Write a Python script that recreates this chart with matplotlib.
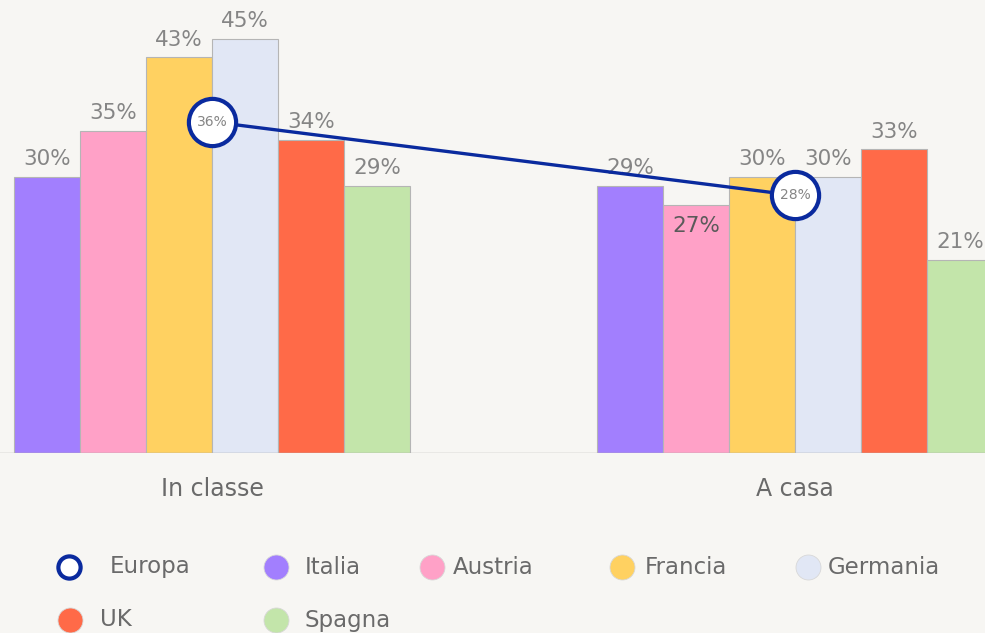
import numpy as np
import matplotlib.pyplot as plt

# data
groups = ["In classe", "A casa"]
paesi = ["Italia", "Austria", "Francia", "Germania", "UK", "Spagna"]
colori = ["#A27FFE", "#FFA1C7", "#FFD161", "#E1E7F5", "#FF6A48", "#C3E5AA"]
in_classe = [30, 35, 43, 45, 34, 29]
a_casa = [29, 27, 30, 30, 33, 21]
europa = [36, 28]

bg = "#F7F6F3"
blu = "#0A2A9E"
grigio = "#858585"
font = "DejaVu Sans"

fig = plt.figure(figsize=(9.85, 6.33), dpi=100, facecolor=bg)
ax = fig.add_axes([0, 180 / 633, 1, 453 / 633])
ax.set_facecolor(bg)

x = np.arange(len(groups))
w = 66 / 583
valori = np.array([in_classe, a_casa]).T
for i, (nome, col) in enumerate(zip(paesi, colori)):
    pos = x + (i - 2.5) * w
    bars = ax.bar(pos, valori[i], width=w, color=col, edgecolor="#b5b5b5", linewidth=0.8)
    for j, b in enumerate(bars):
        v = valori[i][j]
        inside = (j == 1 and nome == "Austria")
        ax.annotate(f"{v}%", (b.get_x() + b.get_width() / 2, v),
                    xytext=(0, -20 if inside else 8.5), textcoords="offset points",
                    ha="center", va="baseline",
                    fontsize=15.5, color="#5a5a5a" if inside else grigio,
                    family=font)

ax.plot(x, europa, color=blu, linewidth=2.4, marker="o", markersize=34,
        markerfacecolor="white", markeredgecolor=blu, markeredgewidth=3, zorder=5)
for xi, v in zip(x, europa):
    ax.text(xi, v, f"{v}%", ha="center", va="center", fontsize=10,
            color=grigio, family=font, zorder=6)

ax.axhline(0, color="#b0b0b0", linewidth=1)
ax.set_xlim(-212 / 583, (985 - 212) / 583)
ax.set_ylim(0, 453 / 9.2)
ax.set_xticks(x)
ax.set_xticklabels(groups, fontsize=17, color="#6a6a6a", family=font)
ax.tick_params(axis="x", length=0, pad=17)
ax.set_yticks([])
for s in ax.spines.values():
    s.set_visible(False)

# legend drawn in pixel space
lg = fig.add_axes([0, 0, 1, 1], facecolor="none")
lg.set_xlim(0, 985)
lg.set_ylim(633, 0)
lg.axis("off")
voci = ["Europa"] + paesi
voci_col = [None] + colori
marker_x = [69, 276, 432, 622, 808, 70, 276]
testo_x = [110, 305, 453, 645, 828, 100, 305]
righe = [567, 567, 567, 567, 567, 620, 620]
for nome, col, mx, tx, ry in zip(voci, voci_col, marker_x, testo_x, righe):
    if col is None:
        lg.plot(mx, ry, "o", markersize=16, markerfacecolor="white",
                markeredgecolor=blu, markeredgewidth=3)
    else:
        lg.plot(mx, ry, "o", markersize=18, markerfacecolor=col,
                markeredgecolor="#d8d8d8", markeredgewidth=0.6)
    lg.text(tx, ry, nome, ha="left", va="center", fontsize=16.5,
            color="#6a6a6a", family=font)

fig.savefig("out.png", dpi=100, facecolor=bg)
